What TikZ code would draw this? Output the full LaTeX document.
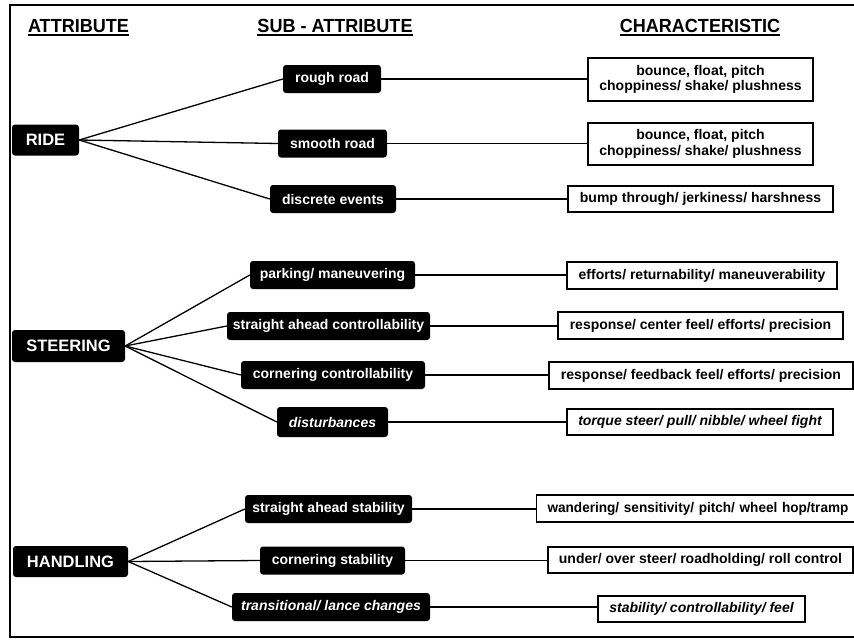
\documentclass[tikz,border=0pt]{standalone}
\usepackage{fontspec}
\setmainfont{Liberation Sans}
\begin{document}
\begin{tikzpicture}[x=1pt,y=-1pt,
  attr/.style={fill=black,text=white,rounded corners=3pt,inner sep=0pt,
    font=\fontsize{16.5}{19}\selectfont\bfseries,minimum height=31pt},
  sub/.style={fill=black,text=white,rounded corners=3pt,inner sep=0pt,
    font=\fontsize{14}{16}\selectfont\bfseries,minimum height=28pt},
  charbox/.style={draw=black,line width=1.1pt,fill=white,inner sep=0pt,
    align=center,font=\fontsize{14}{15.5}\selectfont\bfseries,minimum height=27pt},
  hdr/.style={inner sep=0pt,anchor=base,
    font=\fontsize{19}{22}\selectfont\bfseries\addfontfeatures{FakeStretch=0.95}},
  link/.style={line width=1.3pt},
  uline/.style={line width=1.4pt}]
\useasboundingbox (0,0) rectangle (854,640);
\clip (0,0) rectangle (854,640);

% outer frame (open to the right)
\draw[line width=2.5pt] (870,5) -- (10,5) -- (10,637) -- (870,637);

% column headings
\node[hdr] (h1) at (78.5,32) {ATTRIBUTE};
\node[hdr] (h2) at (335,32) {SUB - ATTRIBUTE};
\node[hdr] (h3) at (700,32) {CHARACTERISTIC};
\foreach \h in {h1,h2,h3}
  \draw[uline] ([yshift=-2.8pt]\h.base west) -- ([yshift=-2.8pt]\h.base east);

% attributes
\node[attr,minimum width=67pt] (ride) at (45.5,140) {RIDE};
\node[attr,minimum width=113pt,minimum height=32pt] (steer) at (68.5,346) {STEERING};
\node[attr,minimum width=115pt] (hand) at (70.5,561.5) {HANDLING};

% sub-attributes
\node[sub,minimum width=98pt]  (s1)  at (332,79)    {rough road};
\node[sub,minimum width=109pt] (s2)  at (332.5,143.5) {smooth road};
\node[sub,minimum width=126pt] (s3)  at (333,199)   {discrete events};
\node[sub,minimum width=165pt] (s4)  at (332.5,275) {parking/ maneuvering};
\node[sub,minimum width=203pt] (s5)  at (328.5,326) {straight ahead controllability};
\node[sub,minimum width=184pt] (s6)  at (333,375)   {cornering controllability};
\node[sub,minimum width=111pt,minimum height=30pt] (s7) at (332.5,422) {\itshape disturbances};
\node[sub,minimum width=167pt] (s8)  at (328.5,509) {straight ahead stability};
\node[sub,minimum width=145pt] (s9)  at (332.5,560.5) {cornering stability};
\node[sub,minimum width=198pt] (s10) at (331,607)   {\itshape transitional/ lance changes};

% characteristics
\node[charbox,minimum width=225pt,minimum height=43pt] (c1) at (700.5,79.5)
  {bounce, float, pitch\\choppiness/ shake/ plushness};
\node[charbox,minimum width=225pt,minimum height=42pt] (c2) at (700.5,144)
  {bounce, float, pitch\\choppiness/ shake/ plushness};
\node[charbox,minimum width=265pt,minimum height=26pt] (c3) at (700.5,199)
  {bump through/ jerkiness/ harshness};
\node[charbox,minimum width=270pt] (c4) at (702,275.5)
  {efforts/ returnability/ maneuverability};
\node[charbox,minimum width=285pt] (c5) at (700.5,325.5)
  {response/ center feel/ efforts/ precision};
\node[charbox,minimum width=304pt] (c6) at (701,375.5)
  {response/ feedback feel/ efforts/ precision};
\node[charbox,minimum width=266pt,minimum height=26pt] (c7) at (700,422)
  {\itshape torque steer/ pull/ nibble/ wheel fight};
\node[charbox,anchor=west,align=left,minimum width=340pt,text width=330pt] (c8) at (536,508.5)
  {\hspace*{6pt}\addfontfeatures{FakeStretch=0.97}wandering/ sensitivity/ pitch/ wheel hop/tramp};
\node[charbox,minimum width=305pt,minimum height=26pt] (c9) at (700.5,560)
  {under/ over steer/ roadholding/ roll control};
\node[charbox,minimum width=207pt,minimum height=26pt] (c10) at (701.5,609)
  {\itshape stability/ controllability/ feel};

% attribute to sub-attribute fans
\foreach \s in {s1,s2,s3} \draw[link] (ride.east) -- (\s.west);
\foreach \s in {s4,s5,s6,s7} \draw[link] (steer.east) -- (\s.west);
\foreach \s in {s8,s9,s10} \draw[link] (hand.east) -- (\s.west);

% sub-attribute to characteristic links
\foreach \i in {1,...,10}
  \draw[link] (s\i.east) -- (s\i.east -| c\i.west);
\end{tikzpicture}
\end{document}
